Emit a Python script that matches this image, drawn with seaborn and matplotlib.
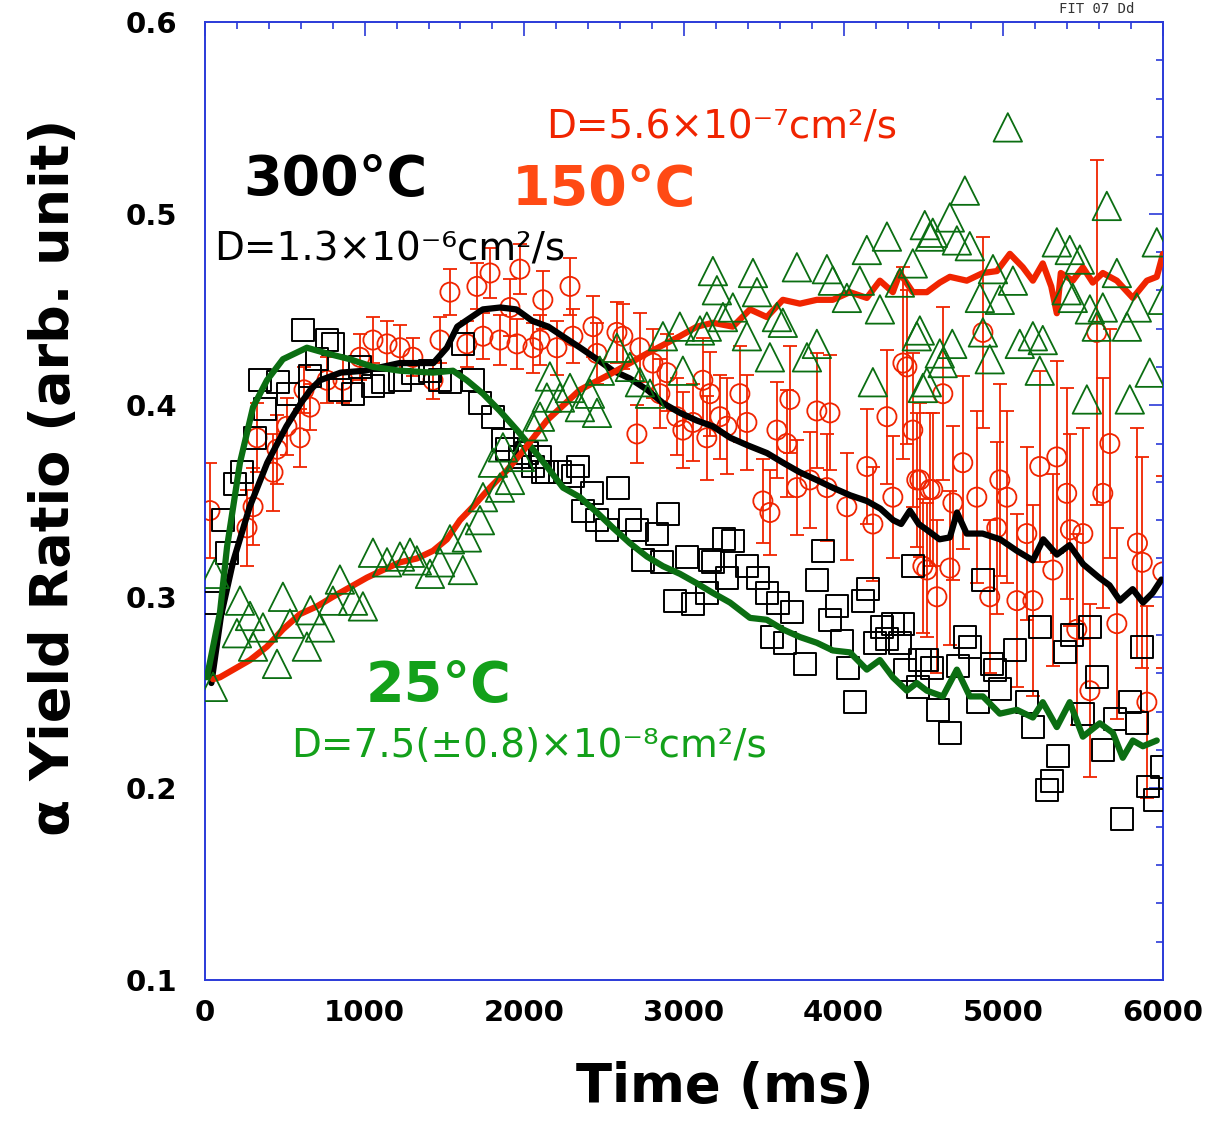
import matplotlib
matplotlib.use("Agg")
import matplotlib.pyplot as plt
import seaborn as sns
import numpy as np
from matplotlib.ticker import MultipleLocator

# ---------------- data ----------------
sq_t = [50, 113, 138, 188, 232, 313, 344, 376, 457, 520, 613, 657, 701, 764, 801, 845, 927, 970,
        1052, 1115, 1221, 1302, 1409, 1472, 1534, 1615, 1678, 1722, 1803, 1866, 1891, 1972, 2016,
        2054, 2098, 2116, 2141, 2223, 2304, 2336, 2367, 2423, 2455, 2517, 2586, 2661, 2705, 2743,
        2830, 2862, 2899, 2943, 3018, 3056, 3143, 3162, 3181, 3250, 3269, 3306, 3394, 3463, 3519,
        3551, 3588, 3632, 3676, 3757, 3832, 3870, 3914, 3957, 3989, 4026, 4070, 4120, 4152, 4195,
        4239, 4271, 4308, 4352, 4371, 4383, 4433, 4465, 4477, 4521, 4552, 4590, 4665, 4715, 4759,
        4790, 4840, 4872, 4928, 4947, 4978, 5072, 5147, 5185, 5228, 5272, 5304, 5341, 5385, 5429,
        5498, 5542, 5585, 5623, 5698, 5742, 5792, 5836, 5867, 5905, 5949, 5992]
sq_y = [0.297, 0.340, 0.323, 0.359, 0.365, 0.383, 0.413, 0.398, 0.412, 0.406, 0.439, 0.415, 0.424,
        0.434, 0.432, 0.408, 0.406, 0.420, 0.410, 0.412, 0.413, 0.417, 0.418, 0.413, 0.412, 0.432,
        0.413, 0.401, 0.394, 0.382, 0.377, 0.373, 0.375, 0.368, 0.373, 0.365, 0.365, 0.365, 0.363,
        0.368, 0.345, 0.354, 0.340, 0.335, 0.357, 0.340, 0.335, 0.319, 0.333, 0.318, 0.343, 0.298,
        0.321, 0.296, 0.302, 0.319, 0.318, 0.330, 0.310, 0.329, 0.316, 0.310, 0.302, 0.279, 0.297,
        0.276, 0.292, 0.265, 0.309, 0.324, 0.288, 0.295, 0.277, 0.263, 0.245, 0.298, 0.304, 0.276,
        0.284, 0.278, 0.286, 0.276, 0.286, 0.262, 0.316, 0.253, 0.267, 0.267, 0.263, 0.241, 0.229,
        0.264, 0.279, 0.274, 0.245, 0.309, 0.265, 0.262, 0.252, 0.272, 0.245, 0.232, 0.284, 0.199,
        0.204, 0.217, 0.271, 0.280, 0.239, 0.284, 0.258, 0.220, 0.236, 0.184, 0.245, 0.234, 0.274,
        0.201, 0.194, 0.211]

tri_t = [50, 60, 200, 219, 282, 301, 363, 451, 488, 532, 638, 660, 720, 801, 845, 927, 989, 1052,
         1140, 1221, 1284, 1327, 1409, 1472, 1534, 1615, 1640, 1722, 1741, 1803, 1847, 1866, 1910,
         1972, 2054, 2098, 2141, 2160, 2223, 2286, 2348, 2411, 2455, 2473, 2580, 2661, 2724, 2787,
         2868, 2974, 2993, 3100, 3143, 3181, 3206, 3244, 3306, 3394, 3432, 3457, 3538, 3582, 3619,
         3707, 3770, 3832, 3895, 3932, 4020, 4101, 4145, 4183, 4227, 4271, 4352, 4433, 4458, 4477,
         4496, 4508, 4521, 4540, 4558, 4602, 4620, 4665, 4680, 4709, 4759, 4790, 4853, 4872, 4915,
         4935, 4978, 5028, 5060, 5103, 5185, 5228, 5247, 5335, 5397, 5416, 5435, 5479, 5523, 5542,
         5585, 5623, 5648, 5711, 5774, 5792, 5836, 5917, 5961, 5999]
tri_y = [0.253, 0.312, 0.281, 0.298, 0.290, 0.274, 0.284, 0.265, 0.300, 0.286, 0.274, 0.293, 0.284,
         0.298, 0.309, 0.298, 0.295, 0.323, 0.318, 0.321, 0.323, 0.319, 0.312, 0.318, 0.330, 0.314,
         0.331, 0.340, 0.352, 0.370, 0.357, 0.378, 0.361, 0.373, 0.389, 0.394, 0.404, 0.415, 0.404,
         0.409, 0.399, 0.406, 0.396, 0.418, 0.430, 0.420, 0.412, 0.406, 0.436, 0.441, 0.418, 0.439,
         0.441, 0.470, 0.460, 0.446, 0.451, 0.436, 0.469, 0.459, 0.425, 0.446, 0.443, 0.472, 0.425,
         0.432, 0.471, 0.465, 0.456, 0.465, 0.481, 0.412, 0.450, 0.488, 0.464, 0.474, 0.436, 0.439,
         0.409, 0.494, 0.412, 0.488, 0.490, 0.427, 0.422, 0.498, 0.432, 0.486, 0.512, 0.483, 0.456,
         0.438, 0.424, 0.471, 0.455, 0.545, 0.465, 0.432, 0.436, 0.418, 0.434, 0.485, 0.460, 0.481,
         0.456, 0.476, 0.403, 0.450, 0.441, 0.451, 0.504, 0.469, 0.441, 0.403, 0.451, 0.417, 0.485,
         0.455]

circ_t = [31, 263, 301, 326, 426, 451, 513, 595, 620, 657, 764, 864, 970, 1052, 1140, 1221, 1302,
          1428, 1472, 1534, 1640, 1703, 1741, 1785, 1847, 1910, 1954, 1972, 2054, 2098, 2116, 2204,
          2286, 2304, 2430, 2455, 2580, 2617, 2705, 2724, 2805, 2849, 2893, 2955, 2993, 3056, 3118,
          3143, 3162, 3225, 3269, 3350, 3394, 3494, 3538, 3582, 3644, 3663, 3707, 3788, 3832, 3895,
          3914, 4020, 4145, 4183, 4271, 4308, 4371, 4396, 4433, 4458, 4477, 4496, 4521, 4540, 4558,
          4584, 4621, 4665, 4684, 4746, 4834, 4872, 4915, 4959, 4978, 5022, 5085, 5147, 5185, 5228,
          5310, 5335, 5397, 5420, 5460, 5498, 5542, 5585, 5623, 5667, 5711, 5840, 5870, 5899, 5999]
circ_y = [0.345, 0.336, 0.347, 0.383, 0.365, 0.377, 0.389, 0.383, 0.408, 0.399, 0.413, 0.413, 0.425,
          0.434, 0.432, 0.430, 0.425, 0.413, 0.434, 0.459, 0.432, 0.462, 0.436, 0.469, 0.434, 0.451,
          0.432, 0.471, 0.430, 0.434, 0.455, 0.430, 0.462, 0.436, 0.441, 0.427, 0.438, 0.436, 0.385,
          0.430, 0.422, 0.406, 0.417, 0.394, 0.387, 0.391, 0.413, 0.383, 0.406, 0.394, 0.389, 0.406,
          0.391, 0.350, 0.344, 0.387, 0.380, 0.403, 0.357, 0.361, 0.397, 0.357, 0.396, 0.347, 0.368,
          0.338, 0.394, 0.352, 0.422, 0.420, 0.387, 0.361, 0.361, 0.316, 0.314, 0.356, 0.356, 0.300,
          0.406, 0.315, 0.349, 0.370, 0.352, 0.438, 0.300, 0.336, 0.361, 0.352, 0.298, 0.333, 0.298,
          0.368, 0.314, 0.373, 0.354, 0.335, 0.283, 0.333, 0.251, 0.438, 0.354, 0.380, 0.286, 0.328,
          0.318, 0.245, 0.313]
circ_err = [0.025, 0.020, 0.020, 0.018, 0.020, 0.018, 0.015, 0.015, 0.012, 0.012, 0.012, 0.012,
            0.012, 0.012, 0.012, 0.012, 0.010, 0.010, 0.012, 0.012, 0.012, 0.012, 0.012, 0.013,
            0.013, 0.015, 0.013, 0.013, 0.013, 0.013, 0.015, 0.014, 0.015, 0.014, 0.016, 0.016,
            0.016, 0.017, 0.015, 0.018, 0.018, 0.018, 0.020, 0.020, 0.020, 0.020, 0.022, 0.022,
            0.022, 0.022, 0.025, 0.025, 0.025, 0.022, 0.022, 0.025, 0.028, 0.028, 0.025, 0.025,
            0.030, 0.028, 0.030, 0.028, 0.030, 0.030, 0.035, 0.032, 0.050, 0.040, 0.040, 0.035,
            0.040, 0.035, 0.035, 0.040, 0.040, 0.040, 0.045, 0.040, 0.040, 0.045, 0.045, 0.050,
            0.040, 0.045, 0.050, 0.045, 0.045, 0.045, 0.050, 0.050, 0.050, 0.050, 0.055, 0.050,
            0.050, 0.055, 0.045, 0.090, 0.060, 0.060, 0.050, 0.060, 0.055, 0.050, 0.050]

# black fit line (through the circles)
blk_t = [40, 100, 175, 280, 390, 510, 600, 660, 720, 850, 1000, 1220, 1430, 1515, 1580, 1740, 1850,
         1950, 2050, 2150, 2240, 2350, 2455, 2555, 2660, 2770, 2870, 2975, 3080, 3180, 3290, 3400,
         3520, 3620, 3725, 3830, 3930, 4040, 4145, 4230, 4310, 4360, 4415, 4470, 4520, 4600, 4665,
         4710, 4770, 4870, 4980, 5085, 5185, 5250, 5335, 5415, 5500, 5600, 5665, 5730, 5810, 5875,
         5935, 5990]
blk_y = [0.255, 0.290, 0.318, 0.347, 0.370, 0.389, 0.401, 0.408, 0.413, 0.417, 0.418, 0.422, 0.422,
         0.430, 0.441, 0.450, 0.451, 0.450, 0.444, 0.441, 0.436, 0.430, 0.424, 0.418, 0.414, 0.408,
         0.401, 0.396, 0.392, 0.389, 0.383, 0.379, 0.375, 0.370, 0.365, 0.361, 0.357, 0.353, 0.350,
         0.346, 0.340, 0.338, 0.345, 0.338, 0.335, 0.330, 0.331, 0.344, 0.333, 0.333, 0.330, 0.324,
         0.319, 0.330, 0.322, 0.327, 0.317, 0.310, 0.306, 0.298, 0.304, 0.297, 0.302, 0.309]

# green fit line (through the squares)
grn_t = [12, 94, 138, 219, 301, 388, 488, 638, 764, 908, 1052, 1221, 1428, 1553, 1640, 1741, 1847,
         1954, 2054, 2141, 2242, 2348, 2455, 2555, 2661, 2768, 2868, 2974, 3081, 3181, 3288, 3413,
         3519, 3619, 3726, 3832, 3932, 4039, 4145, 4227, 4308, 4396, 4458, 4521, 4621, 4709, 4790,
         4872, 4978, 5085, 5185, 5247, 5335, 5416, 5498, 5604, 5686, 5748, 5811, 5874, 5961]
grn_y = [0.258, 0.292, 0.326, 0.370, 0.399, 0.413, 0.424, 0.430, 0.427, 0.424, 0.420, 0.418, 0.417,
         0.418, 0.413, 0.406, 0.397, 0.387, 0.377, 0.368, 0.357, 0.352, 0.344, 0.336, 0.328, 0.321,
         0.316, 0.312, 0.307, 0.302, 0.297, 0.289, 0.288, 0.283, 0.279, 0.276, 0.272, 0.271, 0.262,
         0.267, 0.258, 0.251, 0.255, 0.251, 0.248, 0.262, 0.248, 0.248, 0.239, 0.241, 0.237, 0.245,
         0.232, 0.245, 0.227, 0.234, 0.229, 0.216, 0.225, 0.222, 0.225]

# red fit line (through the triangles)
red_t = [50, 94, 282, 388, 488, 595, 701, 801, 908, 1014, 1115, 1221, 1327, 1428, 1515, 1597, 1678,
         1785, 1891, 1991, 2141, 2348, 2555, 2768, 2974, 3081, 3181, 3306, 3413, 3519, 3619, 3726,
         3832, 3932, 4039, 4145, 4227, 4308, 4352, 4433, 4521, 4602, 4665, 4771, 4872, 4960, 5041,
         5122, 5185, 5247, 5300, 5335, 5360, 5435, 5498, 5560, 5623, 5711, 5811, 5899, 5961, 6000]
red_y = [0.257, 0.258, 0.267, 0.274, 0.283, 0.291, 0.295, 0.300, 0.305, 0.310, 0.314, 0.318, 0.320,
         0.324, 0.330, 0.340, 0.347, 0.357, 0.366, 0.376, 0.392, 0.408, 0.417, 0.427, 0.436, 0.441,
         0.443, 0.441, 0.450, 0.446, 0.455, 0.453, 0.455, 0.455, 0.459, 0.456, 0.465, 0.459, 0.469,
         0.459, 0.459, 0.464, 0.467, 0.465, 0.469, 0.470, 0.479, 0.472, 0.465, 0.474, 0.462, 0.448,
         0.469, 0.465, 0.472, 0.464, 0.469, 0.465, 0.456, 0.465, 0.467, 0.479]

x_ticks = [0, 1000, 2000, 3000, 4000, 5000, 6000]
y_ticks = [0.1, 0.2, 0.3, 0.4, 0.5, 0.6]

# ---------------- styling ----------------
RED = "#f02400"
RED_T = "#ff4a14"
GRN = "#0b6e12"
GRN_T = "#13a01a"
BLUE = "#2a3ad8"

sns.set_style("white")
plt.rcParams["font.family"] = ["DejaVu Sans"]
plt.rcParams["text.color"] = "black"
plt.rcParams["axes.labelcolor"] = "black"
plt.rcParams["xtick.labelcolor"] = "black"
plt.rcParams["ytick.labelcolor"] = "black"

W, H = 1213, 1123
fig = plt.figure(figsize=(W / 100, H / 100), dpi=100)
L, R, T, B = 205, 1163, 22, 980
ax = fig.add_axes([L / W, 1 - B / H, (R - L) / W, (B - T) / H])

# error bars + circles
ax.errorbar(circ_t, circ_y, yerr=circ_err, fmt="none", ecolor=RED, elinewidth=1.3,
            capsize=5, capthick=1.3, zorder=2)
sns.scatterplot(x=circ_t, y=circ_y, marker="o", s=190, facecolors="none", edgecolors=RED,
                linewidth=1.3, ax=ax, zorder=2.5)
sns.scatterplot(x=sq_t, y=sq_y, marker="s", s=250, facecolors="none", edgecolors="black",
                linewidth=1.4, ax=ax, zorder=3)

sns.lineplot(x=blk_t, y=blk_y, color="black", linewidth=4.5, sort=False, estimator=None,
             ax=ax, zorder=4)
sns.lineplot(x=grn_t, y=grn_y, color=GRN, linewidth=4.5, sort=False, estimator=None,
             ax=ax, zorder=4)
sns.lineplot(x=red_t, y=red_y, color=RED, linewidth=4.5, sort=False, estimator=None,
             ax=ax, zorder=4)

sns.scatterplot(x=tri_t, y=tri_y, marker="^", s=420, facecolors="none", edgecolors=GRN,
                linewidth=1.3, ax=ax, zorder=5)

ax.set_xlim(0, 6000)
ax.set_ylim(0.1, 0.6)
ax.set_xticks(x_ticks)
ax.set_yticks(y_ticks)
ax.set_xticklabels([str(v) for v in x_ticks])
ax.set_yticklabels([f"{v:.1f}" for v in y_ticks])
ax.xaxis.set_minor_locator(MultipleLocator(200))
ax.yaxis.set_minor_locator(MultipleLocator(0.02))
ax.tick_params(which="both", direction="in", top=True, right=True, color=BLUE, width=1.2)
ax.tick_params(which="major", length=10)
ax.tick_params(which="minor", length=5)
ax.tick_params(axis="y", which="major", pad=20, labelsize=21, labelcolor="black")
ax.tick_params(axis="x", which="major", pad=14, labelsize=21, labelcolor="black")
for lab in ax.get_xticklabels() + ax.get_yticklabels():
    lab.set_fontweight("bold")
for sp in ax.spines.values():
    sp.set_color(BLUE)
    sp.set_linewidth(1.4)

ax.set_xlabel("Time (ms)", fontsize=38, fontweight="bold", color="black")
ax.set_ylabel("α Yield Ratio (arb. unit)", fontsize=39, fontweight="bold", color="black")
ax.xaxis.set_label_coords((725 - L) / (R - L), -0.085)
ax.yaxis.set_label_coords((80 - L) / (R - L), (B - 477) / (B - T))


def ftext(x, y, s, **kw):
    fig.text(x / W, 1 - y / H, s, va="center", ha="left", **kw)


ftext(243, 180, "300°C", fontsize=40, fontweight="bold", color="black")
ftext(214, 249, "D=1.3×10⁻⁶cm²/s", fontsize=28, color="black")
ftext(546, 128, "D=5.6×10⁻⁷cm²/s", fontsize=28, color=RED)
ftext(512, 190, "150°C", fontsize=40, fontweight="bold", color=RED_T)
ftext(366, 686, "25°C", fontsize=40, fontweight="bold", color=GRN_T)
ftext(291, 746, "D=7.5(±0.8)×10⁻⁸cm²/s", fontsize=28, color=GRN_T)
fig.text(1097 / W, 1 - 2 / H, "FIT 07 Dd", ha="center", va="top", fontsize=10,
         family="DejaVu Sans Mono", color="#333333")

fig.savefig("out.png", dpi=100)
